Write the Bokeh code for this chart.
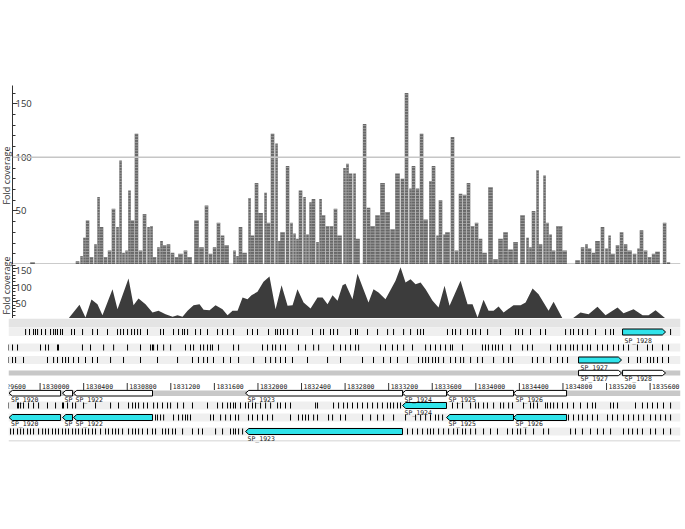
import math
from bokeh.plotting import figure
from bokeh.layouts import column, row
from bokeh.models import Range1d, FixedTicker, Label, Span, BoxAnnotation
from bokeh.core.properties import value
from bokeh.embed import file_html
from bokeh.resources import INLINE

# ---------------- data ----------------
# read-pileup coverage columns (genome position, fold coverage)
cov_pos = [1829931, 1830344, 1830381, 1830408, 1830436, 1830472, 1830509, 1830537, 1830564, 1830601,
           1830638, 1830674, 1830711, 1830739, 1830766, 1830794, 1830821, 1830849, 1830885, 1830922,
           1830959, 1830996, 1831023, 1831051, 1831087, 1831115, 1831143, 1831179, 1831216, 1831253,
           1831289, 1831335, 1831372, 1831436, 1831482, 1831528, 1831565, 1831602, 1831638, 1831675,
           1831712, 1831785, 1831813, 1831840, 1831877, 1831923, 1831950, 1831987, 1832024, 1832070,
           1832097, 1832134, 1832171, 1832198, 1832226, 1832272, 1832308, 1832336, 1832363, 1832391,
           1832428, 1832455, 1832483, 1832510, 1832547, 1832575, 1832602, 1832639, 1832676, 1832712,
           1832749, 1832795, 1832822, 1832850, 1832887, 1832914, 1832979, 1833015, 1833052, 1833098,
           1833144, 1833190, 1833236, 1833281, 1833327, 1833364, 1833401, 1833428, 1833465, 1833502,
           1833539, 1833584, 1833612, 1833649, 1833676, 1833713, 1833740, 1833786, 1833823, 1833860,
           1833897, 1833933, 1833970, 1834007, 1834043, 1834080, 1834135, 1834181, 1834227, 1834273,
           1834319, 1834365, 1834429, 1834475, 1834502, 1834530, 1834567, 1834594, 1834631, 1834658,
           1834686, 1834714, 1834750, 1834778, 1834815, 1834934, 1834980, 1835016, 1835044, 1835081,
           1835117, 1835163, 1835200, 1835228, 1835255, 1835301, 1835338, 1835375, 1835411, 1835457,
           1835494, 1835521, 1835558, 1835595, 1835632, 1835668, 1835733, 1835769]
cov_val = [2, 3, 8, 25, 41, 7, 19, 63, 35, 7,
           13, 52, 35, 97, 11, 13, 69, 41, 122, 13,
           47, 35, 36, 7, 16, 22, 18, 19, 11, 7,
           10, 13, 7, 41, 16, 55, 10, 16, 39, 27,
           18, 13, 8, 35, 11, 62, 27, 76, 48, 67,
           39, 122, 113, 22, 30, 92, 39, 29, 24, 69,
           63, 28, 58, 61, 21, 61, 46, 36, 36, 52,
           27, 90, 94, 85, 85, 24, 131, 53, 36, 46,
           76, 49, 33, 85, 80, 160, 71, 92, 71, 122,
           42, 78, 92, 27, 60, 28, 30, 119, 13, 66,
           65, 76, 36, 39, 24, 11, 72, 5, 24, 30,
           14, 21, 46, 25, 16, 50, 88, 19, 83, 39,
           28, 13, 36, 36, 13, 4, 16, 19, 15, 11,
           22, 35, 15, 27, 10, 18, 30, 19, 13, 10,
           15, 32, 13, 7, 10, 12, 39, 2]

# smoothed coverage profile
area_pos = [1830261, 1830362, 1830417, 1830472, 1830527, 1830573, 1830665, 1830711, 1830812, 1830858,
            1830904, 1830968, 1831032, 1831087, 1831152, 1831216, 1831262, 1831308, 1831354, 1831409,
            1831464, 1831501, 1831556, 1831611, 1831675, 1831721, 1831767, 1831813, 1831859, 1831904,
            1831941, 1831996, 1832051, 1832106, 1832162, 1832217, 1832272, 1832318, 1832363, 1832419,
            1832483, 1832547, 1832593, 1832639, 1832685, 1832731, 1832777, 1832804, 1832868, 1832914,
            1833015, 1833061, 1833107, 1833171, 1833263, 1833309, 1833355, 1833401, 1833447, 1833493,
            1833539, 1833603, 1833658, 1833713, 1833759, 1833860, 1833924, 1833970, 1834016, 1834071,
            1834117, 1834163, 1834209, 1834255, 1834346, 1834411, 1834457, 1834521, 1834576, 1834668,
            1834714, 1834796, 1834888, 1834961, 1835035, 1835117, 1835191, 1835301, 1835356, 1835448,
            1835531, 1835586, 1835650, 1835742]
area_val = [0, 41, 3, 57, 43, 10, 88, 28, 120, 40,
            60, 43, 18, 23, 13, 5, 10, 5, 23, 40,
            43, 26, 25, 40, 28, 10, 23, 23, 63, 58,
            70, 80, 110, 126, 28, 100, 38, 40, 88, 48,
            30, 63, 63, 43, 70, 53, 100, 104, 58, 134,
            48, 88, 78, 58, 113, 154, 108, 118, 103, 108,
            88, 53, 33, 98, 38, 113, 43, 43, 3, 56,
            23, 23, 36, 18, 40, 40, 48, 90, 73, 23,
            50, 0, 0, 18, 13, 35, 10, 33, 16, 28,
            10, 10, 25, 0]

# variant marks per track row
snp_row1 = [1829867, 1829903, 1829940, 1829958, 1829977, 1830013, 1830050, 1830096, 1830124, 1830142,
            1830160, 1830188, 1830206, 1830289, 1830316, 1830390, 1830482, 1830527, 1830619, 1830711,
            1830739, 1830766, 1830803, 1830840, 1830867, 1830895, 1830922, 1830986, 1831106, 1831133,
            1831225, 1831271, 1831308, 1831326, 1831354, 1831427, 1831473, 1831537, 1831629, 1831675,
            1831721, 1831776, 1831904, 1831950, 1831996, 1832097, 1832162, 1832180, 1832207, 1832235,
            1832272, 1832318, 1832363, 1832501, 1832575, 1832602, 1832666, 1832694, 1832731, 1832850,
            1832896, 1832914, 1833006, 1833098, 1833190, 1833245, 1833337, 1833401, 1833465, 1833493,
            1833520, 1833740, 1833786, 1833814, 1833860, 1833924, 1833970, 1833998, 1834043, 1834108,
            1834227, 1834365, 1834392, 1834429, 1834502, 1834594, 1834640, 1834824, 1834870, 1834897,
            1834943, 1834980, 1835026, 1835099, 1835191, 1835237, 1835264, 1835788]
snp_row2 = [1829710, 1829747, 1829793, 1830004, 1830050, 1830077, 1830160, 1830169, 1830389, 1830463,
            1830583, 1830675, 1830803, 1830922, 1831014, 1831032, 1831042, 1831078, 1831134, 1831198,
            1831335, 1831381, 1831409, 1831473, 1831501, 1831537, 1831565, 1831583, 1831638, 1831776,
            1831822, 1832042, 1832088, 1832134, 1832162, 1832207, 1832253, 1832372, 1832437, 1832511,
            1832557, 1832694, 1832758, 1832804, 1832850, 1832896, 1832924, 1833125, 1833171, 1833235,
            1833281, 1833337, 1833419, 1833539, 1833584, 1833630, 1833676, 1833722, 1833768, 1833786,
            1833878, 1834061, 1834089, 1834116, 1834153, 1834181, 1834208, 1834245, 1834319, 1834429,
            1834475, 1834520, 1834686, 1834750, 1834778, 1834824, 1834870, 1834897, 1834933, 1834979,
            1835025, 1835053, 1835117, 1835163, 1835209, 1835264, 1835310, 1835356, 1835402, 1835484,
            1835576, 1835622, 1835714, 1835769]
snp_row3 = [1829710, 1829747, 1829775, 1829848, 1830068, 1830124, 1830160, 1830206, 1830234, 1830261,
            1830307, 1830353, 1830417, 1830481, 1830527, 1830647, 1830766, 1830922, 1831078, 1831262,
            1831399, 1831454, 1831501, 1831537, 1831592, 1831684, 1831748, 1831822, 1831960, 1832070,
            1832116, 1832162, 1832207, 1832253, 1832317, 1832455, 1832639, 1832758, 1832960, 1833061,
            1833153, 1833217, 1833281, 1833373, 1833474, 1833511, 1833539, 1833566, 1833603, 1833630,
            1833658, 1833704, 1833768, 1833814, 1833860, 1833888, 1833952, 1834016, 1834061, 1834163,
            1834255, 1834301, 1834337, 1834520, 1834566, 1834622, 1834686, 1834750, 1834796, 1834842,
            1835402, 1835484, 1835512, 1835576, 1835604, 1835632, 1835668, 1835714, 1835769]
snp_row4 = [1829710, 1829793, 1829802, 1829821, 1829848, 1829894, 1829940, 1829986, 1830068, 1830142,
            1830206, 1830215, 1830252, 1830298, 1830326, 1830399, 1830509, 1830647, 1830720, 1830812,
            1830849, 1830876, 1830904, 1830950, 1830986, 1831042, 1831078, 1831124, 1831170, 1831198,
            1831262, 1831317, 1831399, 1831537, 1831629, 1831675, 1831721, 1831748, 1831776, 1831794,
            1831840, 1831886, 1831913, 1831950, 1831978, 1832024, 1832070, 1832116, 1832180, 1832207,
            1832253, 1832299, 1832529, 1832547, 1832694, 1832740, 1832786, 1832822, 1832868, 1832914,
            1832960, 1833006, 1833052, 1833098, 1833143, 1833189, 1833217, 1833245, 1833281, 1833309,
            1833786, 1833832, 1833878, 1833952, 1833998, 1834025, 1834071, 1834107, 1834163, 1834227,
            1834255, 1834301, 1834337, 1834438, 1834502, 1834530, 1834566, 1834640, 1834658, 1834686,
            1834714, 1834750, 1834796, 1834842, 1834897, 1834961, 1835025, 1835071, 1835099, 1835237,
            1835264, 1835301, 1835466, 1835530, 1835576, 1835622, 1835668, 1835723, 1835788]
snp_row5 = [1831060, 1831078, 1831106, 1831134, 1831225, 1831271, 1831308, 1831335, 1831354, 1831381,
            1831565, 1831592, 1831657, 1831703, 1831748, 1831794, 1831822, 1831913, 1831950, 1831996,
            1832042, 1832088, 1832134, 1832299, 1832372, 1832409, 1832437, 1832464, 1832511, 1832547,
            1832648, 1832685, 1832758, 1832804, 1832960, 1833034, 1833098, 1833153, 1833245, 1833355,
            1833447, 1833493, 1833539, 1833584, 1833630, 1833658, 1833695, 1834851, 1834897, 1834943,
            1834979, 1835025, 1835071, 1835117, 1835209, 1835255, 1835301, 1835356, 1835402, 1835448,
            1835494, 1835540, 1835604, 1835650, 1835696, 1835742, 1835788]
snp_row6 = [1829729, 1829756, 1829793, 1829821, 1829848, 1829885, 1829912, 1829940, 1829986, 1830023,
            1830050, 1830077, 1830114, 1830142, 1830169, 1830206, 1830234, 1830261, 1830298, 1830326,
            1830353, 1830389, 1830417, 1830445, 1830481, 1830509, 1830555, 1830601, 1830628, 1830665,
            1830693, 1830720, 1830757, 1830812, 1830849, 1830876, 1830904, 1830940, 1830986, 1831032,
            1831060, 1831124, 1831152, 1831179, 1831216, 1831243, 1831308, 1831399, 1831454, 1831491,
            1831611, 1831675, 1831748, 1831776, 1831794, 1831822, 1831859, 1833373, 1833419, 1833465,
            1833511, 1833557, 1833584, 1833612, 1833658, 1833704, 1833750, 1833796, 1833832, 1833878,
            1833906, 1833952, 1833998, 1834071, 1834135, 1834199, 1834291, 1834337, 1834383, 1834411,
            1834457, 1834530, 1834622, 1834668, 1834870, 1834915, 1834979, 1835053, 1835117, 1835172,
            1835237, 1835356, 1835402, 1835439, 1835484, 1835530, 1835604, 1835650, 1835723, 1835788]

# genes
gene_names = ["SP_1920", "SP_1921", "SP_1922", "SP_1923", "SP_1924",
              "SP_1925", "SP_1926", "SP_1927", "SP_1928"]
gene_start = [1829715, 1830206, 1830307, 1831886, 1833327, 1833731, 1834346, 1834943, 1835347]
gene_end = [1830188, 1830298, 1831032, 1833327, 1833731, 1834346, 1834833, 1835338, 1835742]
gene_strand = [-1, -1, -1, -1, -1, -1, -1, 1, 1]

# ruler tick labels
scale_pos = [1829600, 1830000, 1830400, 1830800, 1831200, 1831600, 1832000, 1832400,
             1832800, 1833200, 1833600, 1834000, 1834400, 1834800, 1835200, 1835600]
scale_labels = [str(v) for v in scale_pos]

cov_ticks = [50, 100, 150]
cov_tick_labels = ["50", "100", "150"]
cov_minor = [10, 20, 30, 40, 60, 70, 80, 90, 110, 120, 130, 140, 160]
axis_title = "Fold coverage"

# ---------------- layout / style ----------------
X_END = 1835879
X1_START = 1829747   # coverage panels (frame starts a little right)
X3_START = 1829710   # annotation tracks
W = 681
LBL_W = 12
LABEL_FONT = "Open Sans"
MONO = "DejaVu Sans Mono"
CYAN = "#30e3ea"


def base_fig(w, h, x0, y_range, left):
    p = figure(width=w, height=h, x_range=Range1d(x0, X_END), y_range=y_range,
               output_backend="svg", toolbar_location=None,
               min_border_left=left, min_border_right=1, min_border_top=0, min_border_bottom=0)
    p.xaxis.visible = False
    p.xgrid.visible = False
    p.ygrid.visible = False
    p.outline_line_color = None
    p.background_fill_color = "white"
    p.border_fill_color = "white"
    return p


def style_cov_axis(p, dy):
    ax = p.yaxis[0]
    ax.ticker = FixedTicker(ticks=cov_ticks, minor_ticks=cov_minor)
    ax.major_tick_in = 5
    ax.major_tick_out = 0
    ax.minor_tick_in = 3
    ax.minor_tick_out = 0
    ax.major_label_text_font_size = "1px"
    ax.major_label_text_color = None
    ax.major_label_standoff = 0
    ax.axis_line_color = "#333333"
    ax.major_tick_line_color = "#333333"
    ax.minor_tick_line_color = "#333333"
    # tick labels sit inside the frame, right of the axis line
    p.text(x=[X1_START] * len(cov_ticks), y=cov_ticks, text=cov_tick_labels,
           x_offset=3, y_offset=dy, text_baseline="middle", text_align="left",
           text_font=value(LABEL_FONT), text_font_size="9.5px", text_color="#333333")


# column widths: each pileup column fills up to the next one
cov_width = [min(b - a, 46) - 4 for a, b in zip(cov_pos[:-1], cov_pos[1:])] + [30]

# --- panel 1: read pileup ---
p1 = base_fig(W - LBL_W, 264, X1_START, Range1d(0, 167), 0)
p1.min_border_top = 85
p1.vbar(x=cov_pos, top=cov_val, bottom=0, width=cov_width, fill_color="#686868", line_color=None,
        hatch_pattern="horizontal_line", hatch_color="#c4c4c4", hatch_scale=2.8, hatch_weight=0.6)
p1.add_layout(Span(location=100, dimension="width", line_color="#c6c6c6", line_width=1.6))
p1.add_layout(Span(location=0, dimension="width", line_color="#333333", line_width=1.5))
style_cov_axis(p1, 0)

# --- panel 2: coverage profile ---
p2 = base_fig(W - LBL_W, 54, X1_START, Range1d(0, 162), 0)
p2.varea(x=area_pos, y1=0, y2=area_val, fill_color="#3c3c3c")
style_cov_axis(p2, 2)

# --- narrow strip holding the two rotated axis titles ---
pl = figure(width=LBL_W, height=318, x_range=Range1d(0, LBL_W), y_range=Range1d(0, 318),
            output_backend="svg", toolbar_location=None,
            min_border_left=0, min_border_right=0, min_border_top=0, min_border_bottom=0)
pl.axis.visible = False
pl.grid.visible = False
pl.outline_line_color = None
for ty in (143, 33):
    pl.add_layout(Label(x=5.5, y=ty, angle=math.pi / 2, text=axis_title,
                        text_align="center", text_baseline="middle", text_font=LABEL_FONT,
                        text_font_size="9px", text_color="#333333"))

# --- panel 3: annotation tracks ---
p3 = base_fig(W, 127, X3_START, Range1d(127, 0), 8)
p3.yaxis.visible = False

ROW_Y = [13.5, 29, 41.5, 87, 99, 113]
snp_rows = [snp_row1, snp_row2, snp_row3, snp_row4, snp_row5, snp_row6]

p3.add_layout(BoxAnnotation(top=0, bottom=9, fill_color="#e4e4e4", fill_alpha=1,
                            line_color=None, level="underlay"))
for yc in ROW_Y:
    p3.add_layout(BoxAnnotation(top=yc - 4, bottom=yc + 4, fill_color="#efefef", fill_alpha=1,
                                line_color=None, level="underlay"))
# grey bands carrying the gene models
p3.add_layout(BoxAnnotation(top=52, bottom=57, fill_color="#c8c8c8", fill_alpha=1,
                            line_color=None, level="underlay"))
p3.add_layout(BoxAnnotation(top=72, bottom=77.5, fill_color="#c8c8c8", fill_alpha=1,
                            line_color=None, level="underlay"))
p3.add_layout(BoxAnnotation(top=121.5, bottom=123, fill_color="#e2e2e2", fill_alpha=1,
                            line_color=None, level="underlay"))

for yc, marks in zip(ROW_Y, snp_rows):
    p3.segment(x0=marks, x1=marks, y0=[yc - 3] * len(marks), y1=[yc + 3] * len(marks),
               line_color="black", line_width=1)


def arrow_shape(s, e, strand, yc, h, head=30):
    if strand < 0:
        return [s, s + head, e, e, s + head], [yc, yc - h, yc - h, yc + h, yc + h]
    return [s, e - head, e, e - head, s], [yc - h, yc - h, yc, yc + h, yc + h]


def short(name, s, e):
    return name if (e - s) > 200 else name[:2]


gene_idx = {n: i for i, n in enumerate(gene_names)}


def draw_genes(names, yc, h, fill, label_dy):
    xs, ys, lx, ly, lt = [], [], [], [], []
    for n in names:
        i = gene_idx[n]
        gx, gy = arrow_shape(gene_start[i], gene_end[i], gene_strand[i], yc, h)
        xs.append(gx)
        ys.append(gy)
        lx.append(gene_start[i])
        ly.append(yc + label_dy)
        lt.append(short(n, gene_start[i], gene_end[i]))
    p3.patches(xs, ys, fill_color=fill, line_color="black", line_width=1)
    p3.text(x=lx, y=ly, text=lt, x_offset=2, text_baseline="middle",
            text_font=value(MONO), text_font_size="6.5px", text_color="#222222")


# CDS on the variant tracks (cyan)
draw_genes(["SP_1928"], ROW_Y[0], 3, CYAN, 9)
draw_genes(["SP_1927"], ROW_Y[2], 3, CYAN, 7.5)
draw_genes(["SP_1924"], ROW_Y[3], 3, CYAN, 7)
draw_genes(["SP_1920", "SP_1921", "SP_1922", "SP_1925", "SP_1926"], ROW_Y[4], 3, CYAN, 6.5)
draw_genes(["SP_1923"], ROW_Y[5], 3, CYAN, 7)
# gene models (white)
draw_genes(["SP_1927", "SP_1928"], 54.5, 2.7, "white", 6)
draw_genes(["SP_1920", "SP_1921", "SP_1922", "SP_1923", "SP_1924", "SP_1925", "SP_1926"],
           74.7, 2.8, "white", 6.8)

# ruler
p3.segment(x0=scale_pos, x1=scale_pos, y0=[64.5] * len(scale_pos), y1=[71.5] * len(scale_pos),
           line_color="#333333", line_width=1)
p3.text(x=scale_pos, y=[67.8] * len(scale_pos), text=scale_labels, x_offset=2,
        text_baseline="middle", text_font=value(MONO), text_font_size="6.5px",
        text_color="#222222")

layout = column(row(pl, column(p1, p2)), p3)

open("out.html", "w").write(file_html(layout, INLINE))
